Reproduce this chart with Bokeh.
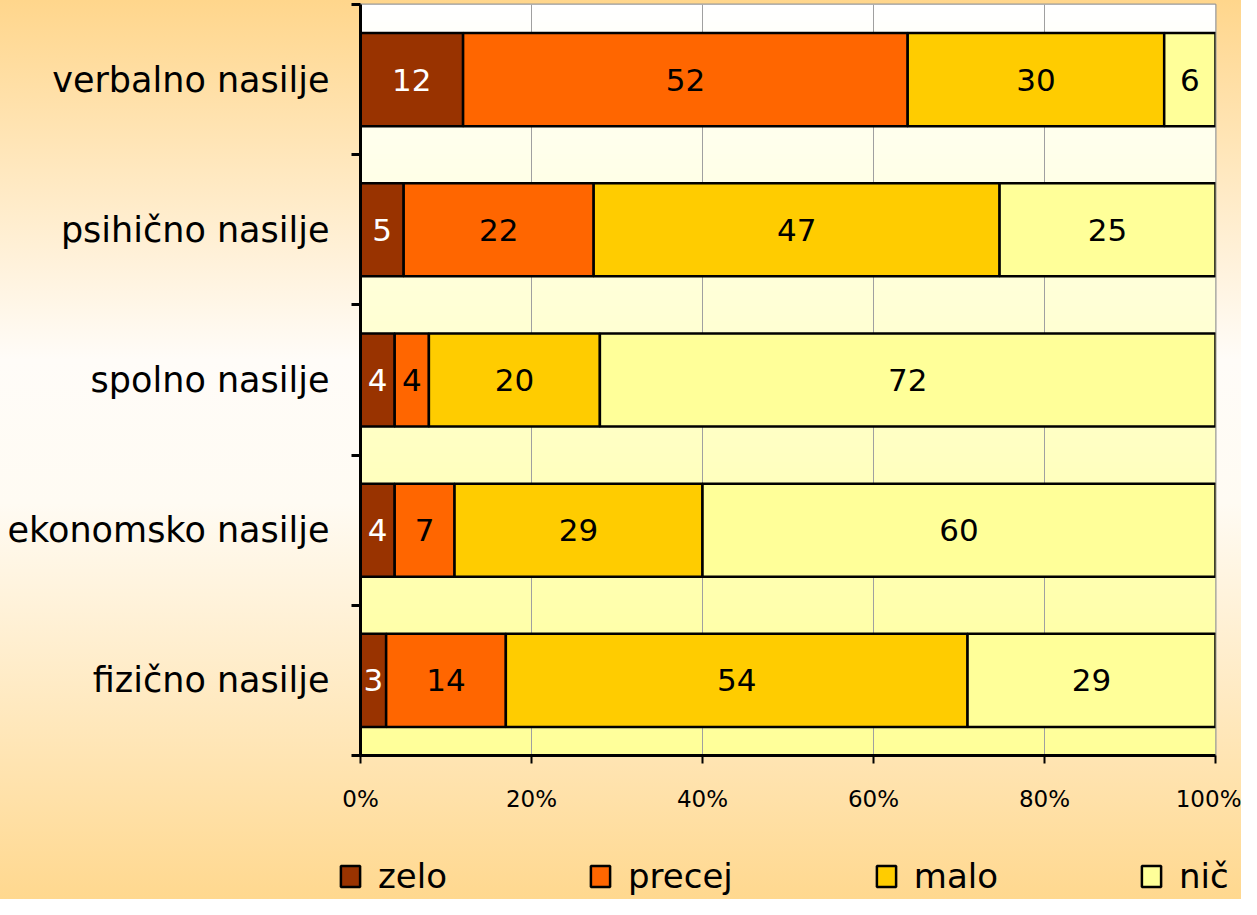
import numpy as np
from bokeh.plotting import figure
from bokeh.layouts import column
from bokeh.models import ColumnDataSource, Range1d, FixedTicker, PrintfTickFormatter, Legend, LegendItem
from bokeh.core.properties import value
from bokeh.embed import file_html
from bokeh.resources import INLINE

# ---- data ----
categories = ["verbalno nasilje", "psihično nasilje", "spolno nasilje",
              "ekonomsko nasilje", "fizično nasilje"]
series_names = ["zelo", "precej", "malo", "nič"]
zelo = [12, 5, 4, 4, 3]
precej = [52, 22, 4, 7, 14]
malo = [30, 47, 20, 29, 54]
nic = [6, 25, 72, 60, 29]
x_ticks = [0, 20, 40, 60, 80, 100]

# ---- styles ----
colors = ["#993300", "#FF6600", "#FFCC00", "#FFFF99"]
label_colors = ["white", "black", "black", "black"]
FONT = "DejaVu Sans"
W, H, LEG_H = 1241, 899, 69

n = len(categories)
ypos = [n - 0.5 - i for i in range(n)]
vals = np.array([zelo, precej, malo, nic], dtype=float)
pct = vals / vals.sum(axis=0) * 100
rights = np.cumsum(pct, axis=0)
lefts = rights - pct

p = figure(width=W, height=H - LEG_H, x_range=Range1d(0, 100), y_range=Range1d(0, n),
           output_backend="svg", toolbar_location=None,
           min_border_left=360, min_border_right=26, min_border_top=4, min_border_bottom=75)
p.border_fill_color = None
p.background_fill_color = None
p.outline_line_color = "#999999"
p.outline_line_width = 2

# plot-area gradient (white at top -> light yellow at bottom)
gn = 256
t = np.linspace(0, 1, gn)
img = np.empty((gn, 1), dtype=np.uint32)
view = img.view(dtype=np.uint8).reshape((gn, 1, 4))
view[:, 0, 0] = 255
view[:, 0, 1] = 255
view[:, 0, 2] = (153 + (255 - 153) * t).astype(np.uint8)
view[:, 0, 3] = 255
p.image_rgba(image=[img], x=0, y=0, dw=100, dh=n, level="image")

sources = []
for i, name in enumerate(series_names):
    src = ColumnDataSource(dict(
        y=ypos, left=lefts[i], right=rights[i], mid=(lefts[i] + rights[i]) / 2,
        lab=[str(int(v)) for v in vals[i]]))
    sources.append(src)
    p.hbar(y="y", left="left", right="right", height=0.62, source=src,
           fill_color=colors[i], line_color="black", line_width=2.5)
    p.text(x="mid", y="y", text="lab", source=src, text_align="center",
           text_baseline="middle", text_color=label_colors[i],
           text_font=value(FONT), text_font_size="31px")

# axes
p.xaxis.ticker = FixedTicker(ticks=x_ticks)
p.xaxis.formatter = PrintfTickFormatter(format="%d%%")
p.xaxis.axis_line_color = "black"
p.xaxis.axis_line_width = 3
p.xaxis.major_tick_out = 8
p.xaxis.major_tick_in = 0
p.xaxis.major_tick_line_width = 2
p.xaxis.major_tick_line_color = "black"
p.xaxis.minor_tick_line_color = None
p.xaxis.major_label_standoff = 22
p.xaxis.major_label_text_font = FONT
p.xaxis.major_label_text_font_size = "23px"
p.xaxis.major_label_text_color = "black"

p.yaxis.ticker = FixedTicker(ticks=ypos, minor_ticks=list(range(n + 1)))
p.yaxis.major_label_overrides = {float(y): c for y, c in zip(ypos, categories)}
p.yaxis.axis_line_color = "black"
p.yaxis.axis_line_width = 3
p.yaxis.major_tick_out = 0
p.yaxis.major_tick_in = 0
p.yaxis.minor_tick_out = 9
p.yaxis.minor_tick_in = 0
p.yaxis.minor_tick_line_color = "black"
p.yaxis.minor_tick_line_width = 3
p.yaxis.major_label_standoff = 22
p.yaxis.major_label_text_font = FONT
p.yaxis.major_label_text_font_size = "35px"
p.yaxis.major_label_text_color = "black"

p.xgrid.grid_line_color = "#A0A0A0"
p.xgrid.grid_line_width = 1
p.ygrid.grid_line_color = None

# ---- legend strip (separate figure; its renderers are hidden, only the legend shows) ----
pl = figure(width=W, height=LEG_H, x_range=Range1d(0, 100), y_range=Range1d(50, 51),
            output_backend="svg", toolbar_location=None,
            x_axis_location=None, y_axis_location=None,
            min_border=0, min_border_left=0, min_border_right=0,
            min_border_top=0, min_border_bottom=0)
aligned_off = False
if "frame_align" in pl.properties():
    pl.frame_align = False
    p.frame_align = False
    aligned_off = True
pl.border_fill_color = None
pl.background_fill_color = None
pl.outline_line_color = None
pl.grid.visible = False
leg_renderers = []
for i, src in enumerate(sources):
    r = pl.hbar(y="y", left="left", right="right", height=0.62, source=src,
                fill_color=colors[i], line_color="black", line_width=2.5)
    r.visible = False
    leg_renderers.append(r)

leg = Legend(items=[LegendItem(label=nm, renderers=[r]) for nm, r in zip(series_names, leg_renderers)],
             location=(338 if aligned_off else 0, 3), orientation="horizontal",
             border_line_color=None, click_policy="none",
             inactive_fill_alpha=0,
             background_fill_alpha=0, padding=0, margin=0,
             spacing=141 if aligned_off else 129,
             glyph_width=24, glyph_height=26, label_standoff=16,
             label_text_font=FONT, label_text_font_size="34px",
             label_text_color="black")
pl.add_layout(leg)

layout = column(p, pl, spacing=0)
layout.styles = {"background": "linear-gradient(to bottom, #FFD68C 0%, #FFFCF8 40%, #FFFBF3 56%, #FFD88F 100%)"}

open("out.html", "w").write(file_html(layout, INLINE))
